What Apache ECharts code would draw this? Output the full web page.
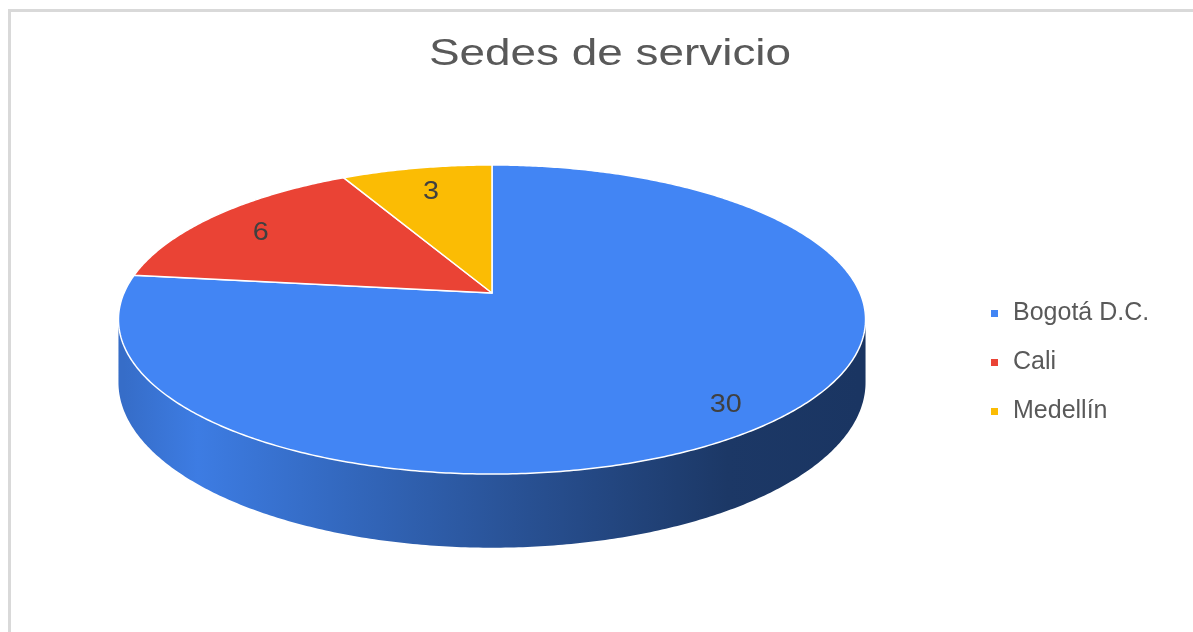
<!doctype html>
<html>
<head>
<meta charset="utf-8">
<title>Sedes de servicio</title>
<script src="https://cdn.jsdelivr.net/npm/echarts@6/dist/echarts.min.js"></script>
<style>
  body { margin: 0; background: #fff; }
  #container { width: 1193px; height: 632px; }
</style>
</head>
<body>
<div id="container"></div>
<script>
// datos del grafico
var sedes = ['Bogotá D.C.', 'Cali', 'Medellín'];
var cantidades = [30, 6, 3];
var colores = ['#4285f4', '#ea4335', '#fbbc04'];

// pastel 3D en perspectiva: vertice, radios, factor de perspectiva y grosor
var cx = 492, ay = 293;
var A = 368, B = 150, k = 0.1716, grosor = 61;
var radioEtiqueta = 0.84;

var total = cantidades.reduce(function (a, b) { return a + b; }, 0);
var inicio = [], acum = 0;
for (var i = 0; i < cantidades.length; i++) {
  inicio.push(acum / total);
  acum += cantidades[i];
}

// angulo medido en sentido horario desde arriba
function proj(r, ang, caida) {
  var u = r * Math.sin(ang), v = r * Math.cos(ang);
  var s = 1 / (1 + k * v);
  return [cx + A * u * s, ay - B * v * s + (caida || 0) * s];
}

function arco(r, a0, a1, caida) {
  var n = Math.max(2, Math.ceil((a1 - a0) / 0.01));
  var pts = [];
  for (var j = 0; j <= n; j++) pts.push(proj(r, a0 + (a1 - a0) * j / n, caida));
  return pts;
}

function oscurecer(hex, f) {
  var c = parseInt(hex.slice(1), 16);
  var r = Math.round(((c >> 16) & 255) * f), g = Math.round(((c >> 8) & 255) * f), b = Math.round((c & 255) * f);
  return 'rgb(' + r + ',' + g + ',' + b + ')';
}

function lateral(col) {
  return new echarts.graphic.LinearGradient(cx - A, 0, cx + A, 0, [
    { offset: 0, color: oscurecer(col, 0.82) },
    { offset: 0.1, color: oscurecer(col, 0.93) },
    { offset: 0.3, color: oscurecer(col, 0.78) },
    { offset: 0.55, color: oscurecer(col, 0.6) },
    { offset: 0.82, color: oscurecer(col, 0.42) },
    { offset: 1, color: oscurecer(col, 0.4) }
  ], true);
}

function renderItem(params, api) {
  var i = params.dataIndex;
  var a0 = inicio[i] * 2 * Math.PI;
  var a1 = a0 + api.value(0) / total * 2 * Math.PI;
  var hijos = [];
  // cara lateral visible (frente)
  var fR = Math.acos(-k), fL = 2 * Math.PI - fR;
  var s0 = Math.max(a0, fR), s1 = Math.min(a1, fL);
  if (s1 > s0) {
    var lado = arco(1, s0, s1, 0).concat(arco(1, s0, s1, grosor).reverse());
    hijos.push({ type: 'polygon', shape: { points: lado }, style: { fill: lateral(colores[i]) } });
  }
  // cara superior
  var sup = [[cx, ay]].concat(arco(1, a0, a1, 0));
  hijos.push({
    type: 'polygon', shape: { points: sup },
    style: { fill: colores[i], stroke: '#fff', lineWidth: 1.5, lineJoin: 'round' }
  });
  var p = proj(radioEtiqueta, (a0 + a1) / 2, 0);
  hijos.push({
    type: 'text', x: p[0] + 4, y: p[1] + 6, scaleX: 1.15,
    style: {
      text: String(api.value(0)), fill: '#404040',
      font: '25px "Liberation Sans", Arial, sans-serif',
      align: 'center', verticalAlign: 'middle'
    }
  });
  return { type: 'group', children: hijos };
}

var datos = cantidades.map(function (v, i) {
  return { name: sedes[i], value: v, itemStyle: { color: colores[i] } };
});

var option = {
  animation: false,
  color: colores,
  graphic: [
    {
      type: 'polyline', silent: true,
      shape: { points: [[9.5, 632], [9.5, 10.5], [1193, 10.5]] },
      style: { stroke: '#d9d9d9', lineWidth: 3, fill: null }
    },
    {
      type: 'text', x: 610, y: 55, scaleX: 1.24, silent: true,
      style: {
        text: 'Sedes de servicio', fill: '#595959',
        font: '37px "Liberation Sans", Arial, sans-serif',
        align: 'center', verticalAlign: 'middle'
      }
    }
  ],
  legend: {
    orient: 'vertical',
    left: 991,
    top: 301,
    padding: 0,
    itemGap: 24,
    itemWidth: 27,
    itemHeight: 7,
    icon: 'path://M0,0L1,0L1,1L0,1Z',
    itemStyle: { borderWidth: 0 },
    textStyle: { fontSize: 25, color: '#595959', fontFamily: '"Liberation Sans", Arial, sans-serif' },
    data: sedes
  },
  series: [
    {
      name: 'Sedes',
      type: 'custom',
      coordinateSystem: 'none',
      renderItem: renderItem,
      data: datos
    },
    {
      // solo para la leyenda
      name: 'leyenda',
      type: 'pie',
      radius: [0, 0],
      center: [-50, -50],
      silent: true,
      label: { show: false },
      labelLine: { show: false },
      data: datos
    }
  ]
};

var myChart = echarts.init(document.getElementById('container'));
myChart.setOption(option);
</script>
</body>
</html>
